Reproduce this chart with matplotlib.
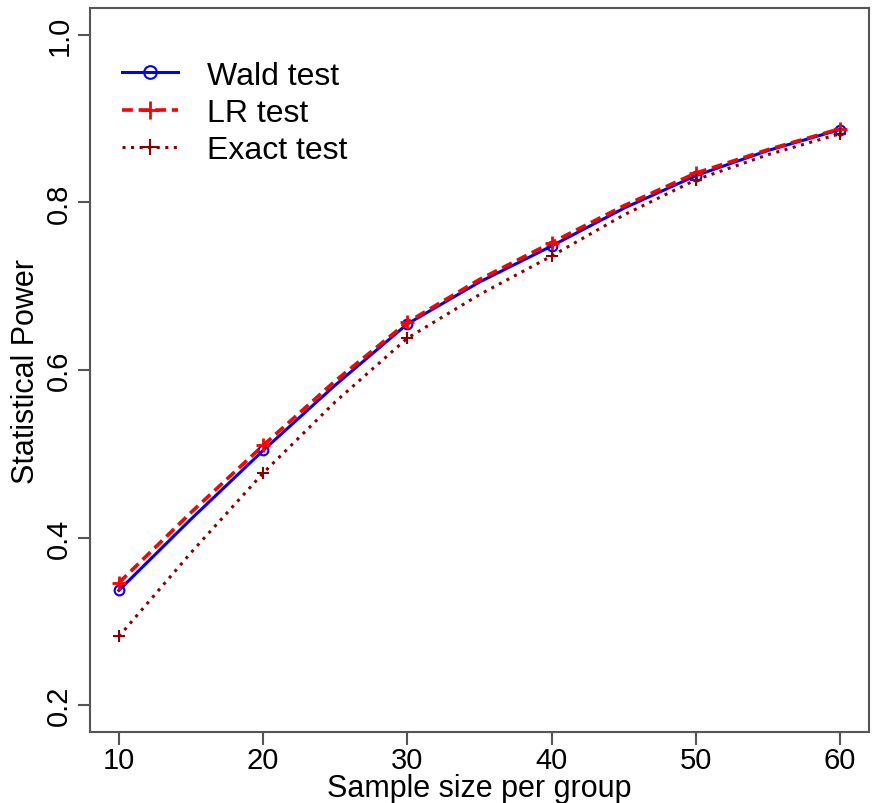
import matplotlib
matplotlib.use("Agg")
import matplotlib.pyplot as plt

plt.rcParams['font.family'] = ['Liberation Sans', 'DejaVu Sans']

# sample size per group
n = [10, 15, 20, 25, 30, 35, 40, 45, 50, 55, 60]
wald = [0.337, 0.422, 0.504, 0.582, 0.655, 0.705, 0.748, 0.793, 0.832, 0.862, 0.887]
lr = [0.346, 0.430, 0.510, 0.587, 0.657, 0.708, 0.752, 0.796, 0.835, 0.863, 0.888]
exact = [0.282, 0.382, 0.477, 0.562, 0.638, 0.690, 0.736, 0.785, 0.827, 0.857, 0.882]

xticks = [10, 20, 30, 40, 50, 60]
yticks = [0.2, 0.4, 0.6, 0.8, 1.0]

fig = plt.figure(figsize=(8.72, 8.04), dpi=100)
ax = fig.add_axes([0.1032, 0.0883, 0.8934, 0.9005])

ax.plot(n, wald, color='blue', lw=2.2, ls='-', marker='o', markevery=2,
        ms=7, mfc='none', mec='blue', mew=1.5, label='Wald test')
ax.plot(n, lr, color='red', lw=2.6, ls=(0, (3, 1.6)), marker='+', markevery=2,
        ms=10, mew=2, label='LR test')
ax.plot(n, exact, color='#8b0000', lw=2.2, ls=(0, (1, 1.8)), marker='+', markevery=2,
        ms=9, mew=1.5, label='Exact test')

ax.set_xlim(8, 62)
ax.set_ylim(0.168, 1.032)
ax.set_xticks(xticks)
ax.set_xticklabels([str(v) for v in xticks])
ax.set_yticks(yticks)
ax.set_yticklabels([f"{v:.1f}" for v in yticks], rotation=90, va='center')

for s in ax.spines.values():
    s.set_color('#555555')
    s.set_linewidth(1.5)
ax.tick_params(colors='#555555', labelcolor='black', labelsize=21,
               length=9, width=1.5, pad=3)
ax.tick_params(axis='x', pad=1)

ax.set_xlabel('Sample size per group', fontsize=22, labelpad=-1)
ax.set_ylabel('Statistical Power', fontsize=22, labelpad=3)

leg = ax.legend(loc='upper left', bbox_to_anchor=(0.025, 0.945), frameon=False,
                fontsize=23, handlelength=1.75, labelspacing=0.23,
                handletextpad=0.9, borderaxespad=0)
for h in leg.legend_handles:
    h.set_markersize(h.get_markersize() * 1.3)

fig.savefig('out.png', dpi=100)
